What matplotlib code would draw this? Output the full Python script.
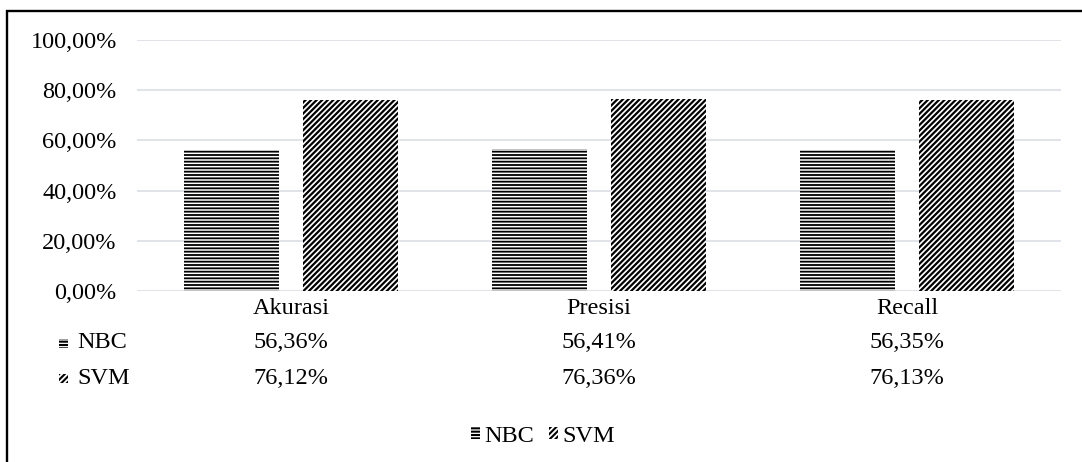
import matplotlib
matplotlib.use("Agg")
import matplotlib.pyplot as plt
from matplotlib.patches import Rectangle
from matplotlib.ticker import FuncFormatter
import numpy as np

# metric names and scores of the two classifiers (percent)
categories = ["Akurasi", "Presisi", "Recall"]
series = ["NBC", "SVM"]
nbc = [56.36, 56.41, 56.35]
svm = [76.12, 76.36, 76.13]
yticks = [0, 20, 40, 60, 80, 100]

plt.rcParams['font.family'] = ['Liberation Serif', 'DejaVu Serif']
plt.rcParams['font.size'] = 17.5
plt.rcParams['hatch.linewidth'] = 1.5

hatches = {"NBC": "-----", "SVM": "//////"}
hatch_lw = {"NBC": 1.3, "SVM": 1.6}
grid_col = "#dde1e7"

W, H = 1082, 462
fig = plt.figure(figsize=(W / 100, H / 100), dpi=100)

def fx(px):
    return px / W

def fy(py):
    return 1 - py / H

def pct(v):
    return ("%.2f%%" % v).replace(".", ",")

ax = fig.add_axes([fx(137), fy(291), fx(1061) - fx(137), fy(40) - fy(291)])

x = np.arange(len(categories))
width = 0.31
off = 0.193
with plt.rc_context({'hatch.linewidth': hatch_lw["NBC"]}):
    b1 = ax.bar(x - off, nbc, width, facecolor="white", edgecolor="black",
                linewidth=0, hatch=hatches["NBC"], label="NBC", zorder=2)
with plt.rc_context({'hatch.linewidth': hatch_lw["SVM"]}):
    b2 = ax.bar(x + off, svm, width, facecolor="white", edgecolor="black",
                linewidth=0, hatch=hatches["SVM"], label="SVM", zorder=2)

ax.set_xlim(-0.5, len(categories) - 0.5)
ax.set_ylim(0, 100)
ax.set_yticks(yticks)
ax.yaxis.set_major_formatter(FuncFormatter(lambda v, p: pct(v)))
ax.tick_params(axis="y", length=0, pad=14.5)
ax.set_xticks([])
for s in ax.spines.values():
    s.set_visible(False)
ax.grid(axis="y", color=grid_col, linewidth=1.3, zorder=0)
ax.set_axisbelow(True)

# data table under the plot
rows_y = {"cat": 308, "NBC": 343, "SVM": 378}
fig.canvas.draw()
for i, c in enumerate(categories):
    xp = ax.transData.transform((i, 0))[0] / W
    fig.text(xp, fy(rows_y["cat"]), c, ha="center", va="center")
    fig.text(xp, fy(rows_y["NBC"]), pct(nbc[i]), ha="center", va="center")
    fig.text(xp, fy(rows_y["SVM"]), pct(svm[i]), ha="center", va="center")

for name in series:
    yc = rows_y[name]
    fig.add_artist(Rectangle((fx(59), fy(yc + 4.5)), fx(9), 9 / H,
                             transform=fig.transFigure, facecolor="white",
                             edgecolor="black", linewidth=0, hatch=hatches[name]))
    fig.text(fx(77), fy(yc), name, ha="left", va="center")

fig.legend(handles=[b1, b2], labels=series, loc="center",
           bbox_to_anchor=(fx(543), fy(436)), ncol=2, frameon=False,
           handlelength=0.37, handleheight=0.37, handletextpad=0.2,
           columnspacing=0.6)

# outer frame, running off the right and bottom edges
fig.add_artist(Rectangle((fx(7), -0.2), 1.2, fy(11) + 0.2,
                         transform=fig.transFigure, fill=False,
                         edgecolor="black", linewidth=1.7))

fig.savefig("out.png", dpi=100)
